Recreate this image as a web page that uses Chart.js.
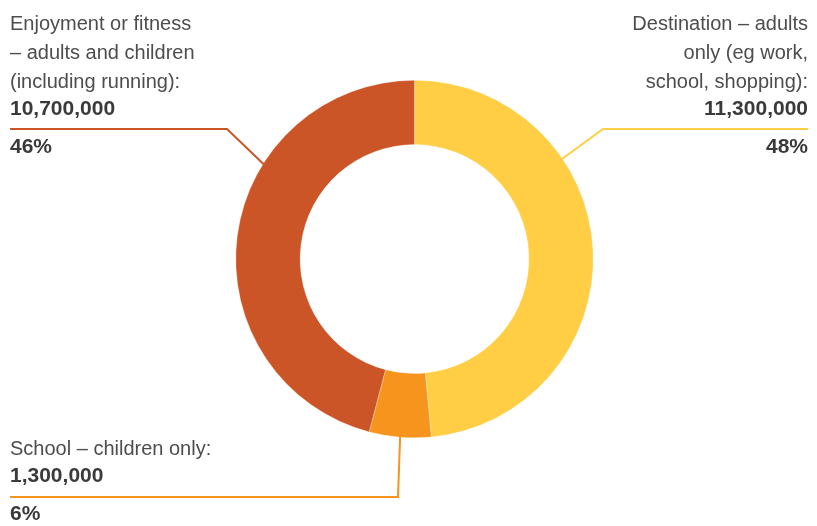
<!DOCTYPE html>
<html>
<head>
<meta charset="utf-8">
<script src="https://cdn.jsdelivr.net/npm/chart.js@4"></script>
<style>
  html, body { margin: 0; padding: 0; background: #fff; }
  #wrap { width: 817px; height: 526px; position: relative; }
</style>
</head>
<body>
<div id="wrap"><canvas id="chart"></canvas></div>
<script>
// data
const categories = [
    'Destination – adults only (eg work, school, shopping)',
    'School – children only',
    'Enjoyment or fitness – adults and children (including running)',
];
const trips = [11300000, 1300000, 10700000];
const colors = ['#FFCE44', '#F7941D', '#CC5527'];

// how each label is wrapped on the page
const labelLines = [
    ['Destination – adults', 'only (eg work,', 'school, shopping):'],
    ['School – children only:'],
    ['Enjoyment or fitness', '– adults and children', '(including running):'],
];

const total = trips.reduce((a, b) => a + b, 0);
const fmt = (n) => n.toLocaleString('en-GB');

// label placement: where the leader leaves the ring (fraction along the arc),
// the elbow, the end of the rule, and the text block
const callouts = [
    { t: 0.32, elbow: [603, 129], end: [808, 129], align: 'right', x: 808, top: 30 },
    { t: 0.5, elbow: [398, 497], end: [10, 497], align: 'left', x: 10, top: 455 },
    { t: 0.65, elbow: [227, 129], end: [10, 129], align: 'left', x: 10, top: 30 },
];

const calloutPlugin = {
    id: 'callouts',
    afterDraw(chart) {
        const ctx = chart.ctx;
        const arcs = chart.getDatasetMeta(0).data;
        ctx.save();
        arcs.forEach((arc, i) => {
            const c = callouts[i];
            const p = arc.getProps(['x', 'y', 'startAngle', 'endAngle', 'outerRadius'], true);
            const a = p.startAngle + c.t * (p.endAngle - p.startAngle);
            const ax = p.x + Math.cos(a) * (p.outerRadius - 1);
            const ay = p.y + Math.sin(a) * (p.outerRadius - 1);

            ctx.strokeStyle = colors[i];
            ctx.lineWidth = 2;
            ctx.beginPath();
            ctx.moveTo(ax, ay);
            ctx.lineTo(c.elbow[0], c.elbow[1]);
            ctx.lineTo(c.end[0], c.end[1]);
            ctx.stroke();

            ctx.textAlign = c.align;
            ctx.textBaseline = 'alphabetic';
            let y = c.top;
            ctx.fillStyle = '#4d4d4d';
            ctx.font = '20px "Liberation Sans", Arial, sans-serif';
            labelLines[i].forEach((line) => {
                ctx.fillText(line, c.x, y);
                y += 29;
            });
            y -= 2;
            ctx.fillStyle = '#3a3a3a';
            ctx.font = 'bold 21px "Liberation Sans", Arial, sans-serif';
            ctx.fillText(fmt(trips[i]), c.x, y);
            const pct = Math.round((trips[i] / total) * 100) + '%';
            ctx.fillText(pct, c.x, y + 38);
        });
        ctx.restore();
    },
};

new Chart(document.getElementById('chart'), {
    type: 'doughnut',
    data: {
        labels: categories,
        datasets: [
            {
                data: trips,
                backgroundColor: colors,
                borderColor: 'rgba(255, 255, 255, 0.6)',
                borderWidth: 0.5,
            },
        ],
    },
    options: {
        responsive: true,
        maintainAspectRatio: false,
        animation: false,
        cutout: '64%',
        layout: {
            padding: { top: 80, bottom: 88, left: 12, right: 0 },
        },
        plugins: {
            legend: { display: false },
            tooltip: { enabled: false },
        },
    },
    plugins: [calloutPlugin],
});
</script>
</body>
</html>
